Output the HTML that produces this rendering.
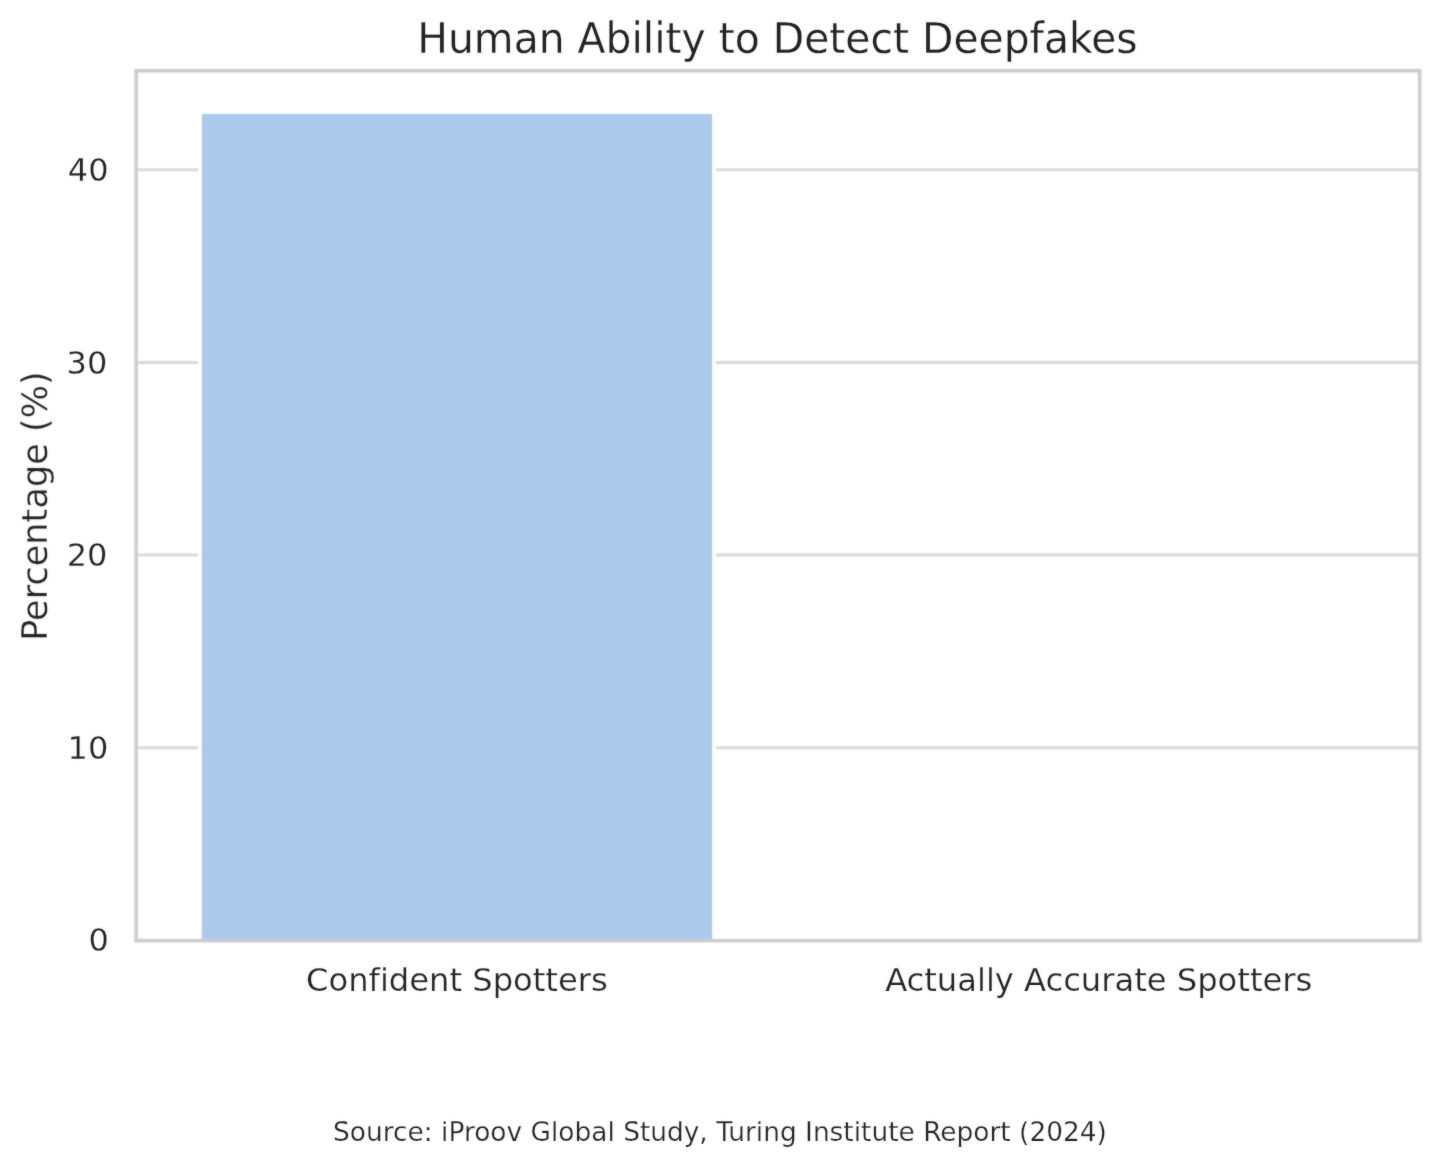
<!DOCTYPE html>
<html lang="en">
<head>
<meta charset="utf-8">
<title>Human Ability to Detect Deepfakes</title>
<style>
html,body{margin:0;padding:0;background:#fff;}
body{width:1440px;height:1167px;overflow:hidden;}
svg{display:block;}
text{font-family:"DejaVu Sans","Liberation Sans",sans-serif;fill:#202020;font-variant-ligatures:none;font-feature-settings:"liga" 0,"clig" 0;font-kerning:normal;stroke:#ffffff;stroke-width:0.25px;}
</style>
</head>
<body>
<svg width="1440" height="1167" viewBox="0 0 1440 1167">
<defs><filter id="soft" x="0" y="0" width="1440" height="1167" filterUnits="userSpaceOnUse" color-interpolation-filters="sRGB"><feGaussianBlur in="SourceGraphic" stdDeviation="0.9" result="b"/><feComposite in="SourceGraphic" in2="b" operator="arithmetic" k1="0" k2="0.5" k3="0.5" k4="0"/></filter><filter id="softt" x="0" y="0" width="1440" height="1167" filterUnits="userSpaceOnUse" color-interpolation-filters="sRGB"><feGaussianBlur in="SourceGraphic" stdDeviation="0.9" result="b"/><feComposite in="SourceGraphic" in2="b" operator="arithmetic" k1="0" k2="0.72" k3="0.28" k4="0"/></filter></defs>
<rect x="0" y="0" width="1440" height="1167" fill="#ffffff"/>
<g filter="url(#soft)">
<!-- grid lines -->
<g stroke="#d9d9d9" stroke-width="3" fill="none">
<line x1="136.5" x2="1419.3" y1="747.7" y2="747.7"/>
<line x1="136.5" x2="1419.3" y1="555.0" y2="555.0"/>
<line x1="136.5" x2="1419.3" y1="362.4" y2="362.4"/>
<line x1="136.5" x2="1419.3" y1="169.7" y2="169.7"/>
</g>
<!-- bar -->
<rect x="200" y="112.2" width="513.9" height="828.2" fill="#abc9ea" stroke="#ffffff" stroke-width="3.6"/>
<!-- spines -->
<rect x="136.1" y="70.7" width="1283.6" height="869.9" fill="none" stroke="#cccccc" stroke-width="3.6"/>
<!-- bar foot drawn over the upper half of the bottom spine -->
<rect x="201.8" y="930" width="510.3" height="9.8" fill="#abc9ea" fill-opacity="0.8"/>
</g>
<g filter="url(#softt)">
<!-- title -->
<text transform="translate(777.45 52.5) scale(1 1.035)" font-size="40.87" text-anchor="middle">Human Ability to Detect Deepfakes</text>
<!-- y tick labels -->
<g font-size="32" text-anchor="end">
<text transform="translate(108.9 951.45) scale(1 1.02)">0</text>
<text transform="translate(108.3 758.8) scale(1 1.02)">10</text>
<text transform="translate(107.4 566.35) scale(1 1.02)">20</text>
<text transform="translate(107.3 373.8) scale(1 1.02)">30</text>
<text transform="translate(108.5 181.15) scale(1 1.02)">40</text>
</g>
<!-- x tick labels -->
<g font-size="32.16" text-anchor="middle">
<text x="456.9" y="991.2">Confident Spotters</text>
<text x="1098.7" y="991.2">Actually Accurate Spotters</text>
</g>
<!-- y label -->
<text transform="translate(47.0 506.1) rotate(-90) scale(1 1.03)" font-size="35.15" text-anchor="middle">Percentage (%)</text>
<!-- source -->
<text x="720" y="1141.1" font-size="26.42" text-anchor="middle" fill="#333333">Source: iProov Global Study, Turing Institute Report (2024)</text>
</g>
</svg>
</body>
</html>
